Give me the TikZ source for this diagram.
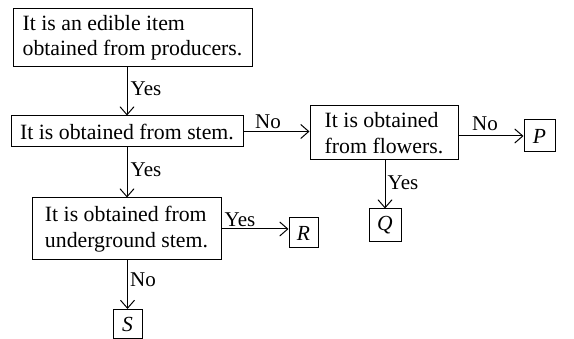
\documentclass[tikz,border=0pt]{standalone}
\usepackage{fontspec}
\setmainfont{Liberation Serif}
\usetikzlibrary{arrows.meta}
\begin{document}
\begin{tikzpicture}[x=1pt,y=-1pt,
  box/.style={draw, line width=1pt, align=left, inner sep=0pt, font=\fontsize{21.8}{25.5}\selectfont},
  leaf/.style={draw, line width=1pt, inner sep=0pt, font=\fontsize{21.5}{25}\selectfont\itshape},
  lbl/.style={inner sep=0pt, font=\fontsize{21}{24}\selectfont},
  arr/.style={line width=1pt, -{Straight Barb[length=8pt,width=14pt,line width=1pt]}}]
\useasboundingbox (0,0) rectangle (574,339);
\node[box, minimum width=239pt, minimum height=58pt] (b1) at (132.5,38) {It is an edible item\\obtained from producers.};
\node[box, minimum width=232pt, minimum height=31pt] (b2) at (127,131.5) {It is obtained from stem.};
\node[box, minimum width=148pt, minimum height=54pt] (b3) at (384,133) {It is obtained\\from flowers.};
\node[box, minimum width=189pt, minimum height=62pt] (b4) at (126.5,229) {It is obtained from\\underground stem.};
\node[leaf, minimum width=31pt, minimum height=32pt] (P) at (539.5,136) {P};
\node[leaf, minimum width=32pt, minimum height=33pt] (Q) at (385,225.5) {Q};
\node[leaf, minimum width=29pt, minimum height=30pt] (R) at (303.5,233) {R};
\node[leaf, minimum width=29pt, minimum height=29pt] (S) at (127.5,324) {S};
\draw[arr] (b1.south -| b2.center) -- (b2.north);
\draw[arr] (b2.east) -- (b2.east -| b3.west);
\draw[arr] (b3.east |- P.west) -- (P.west);
\draw[arr] (b3.south -| Q.north) -- (Q.north);
\draw[arr] (b2.south) -- (b2.south |- b4.north);
\draw[arr] (b4.east) -- (b4.east -| R.west);
\draw[arr] (b4.south -| S.north) -- (S.north);
\node[lbl] (l1) at (146,89) {Yes};
\node[lbl] (l2) at (268,121.5) {No};
\node[lbl] (l3) at (485,124) {No};
\node[lbl] (l4) at (403,183) {Yes};
\node[lbl] (l5) at (146,170) {Yes};
\node[lbl] (l6) at (240,220) {Yes};
\node[lbl] (l7) at (143,280) {No};
\end{tikzpicture}
\end{document}
